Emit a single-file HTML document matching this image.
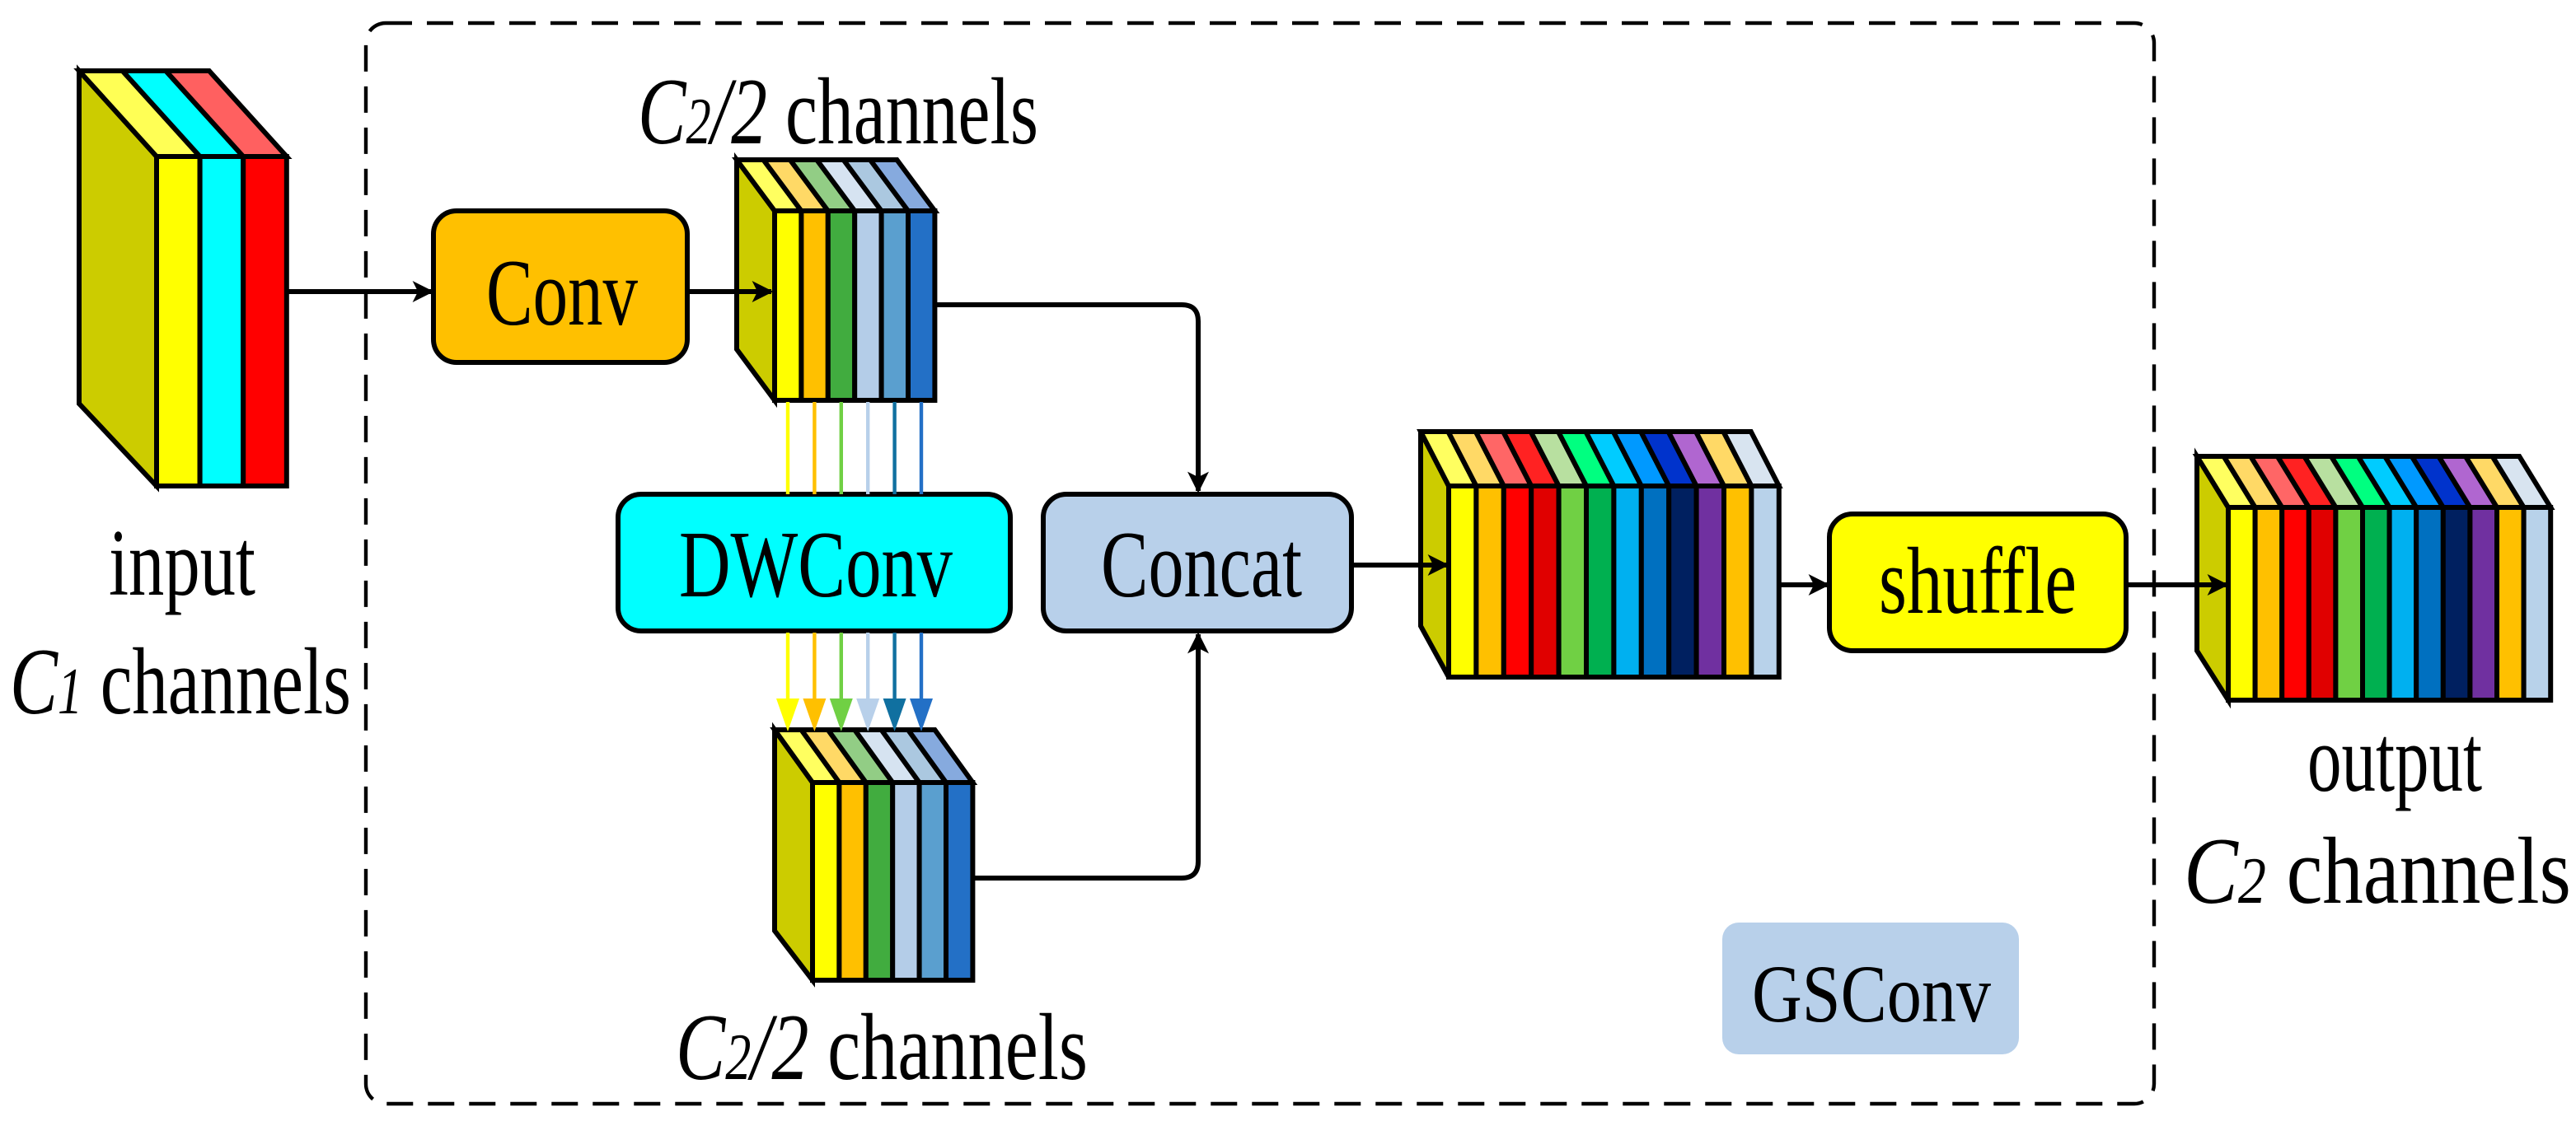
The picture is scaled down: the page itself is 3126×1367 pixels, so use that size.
<!DOCTYPE html>
<html><head><meta charset="utf-8"><style>
html,body{margin:0;padding:0;background:#fff;}
svg{display:block;}
text{font-family:"Liberation Serif","Times New Roman",Times,serif;fill:#000;}
</style></head><body>
<svg id="s" width="3126" height="1367" viewBox="0 0 1563 683.5" xmlns="http://www.w3.org/2000/svg" font-family="Liberation Serif, Times New Roman, serif">
<defs>
<marker id="ah" viewBox="0 0 10 10" refX="9" refY="5" markerWidth="13" markerHeight="13" markerUnits="userSpaceOnUse" orient="auto"><path d="M0,0 L10,5 L0,10 L2.5,5 z" fill="#000"/></marker>
</defs>
<rect x="222" y="14" width="1085" height="656" rx="12" fill="none" stroke="#000" stroke-width="2.2" stroke-dasharray="16,9"/>
<rect x="1045" y="560" width="180" height="80" rx="10" fill="#b8d0ea"/>
<text x="1063" y="620" font-family="Liberation Serif, serif" font-size="50" textLength="145" lengthAdjust="spacingAndGlyphs">GSConv</text>

<g id="stacks"></g>

<rect x="263" y="128" width="154" height="92" rx="14" fill="#ffc000" stroke="#000" stroke-width="3"/>
<text x="295" y="197" font-family="Liberation Serif, serif" font-size="58" textLength="92" lengthAdjust="spacingAndGlyphs">Conv</text>
<rect x="375" y="300" width="238" height="83" rx="14" fill="#00ffff" stroke="#000" stroke-width="3"/>
<text x="412" y="362" font-family="Liberation Serif, serif" font-size="58" textLength="166" lengthAdjust="spacingAndGlyphs">DWConv</text>
<rect x="633" y="300" width="187" height="83" rx="14" fill="#b8d0ea" stroke="#000" stroke-width="3"/>
<text x="668" y="362" font-family="Liberation Serif, serif" font-size="58" textLength="122" lengthAdjust="spacingAndGlyphs">Concat</text>
<rect x="1110" y="312" width="180" height="83" rx="14" fill="#ffff00" stroke="#000" stroke-width="3"/>
<text x="1140" y="372" font-family="Liberation Serif, serif" font-size="58" textLength="120" lengthAdjust="spacingAndGlyphs">shuffle</text>

<g fill="none" stroke="#000" stroke-width="3">
<line x1="174" y1="177" x2="262" y2="177" marker-end="url(#ah)"/>
<line x1="417" y1="177" x2="468" y2="177" marker-end="url(#ah)"/>
<path d="M567,185 H717 Q727,185 727,195 V298" marker-end="url(#ah)"/>
<path d="M590,533 H717 Q727,533 727,523 V385" marker-end="url(#ah)"/>
<line x1="820" y1="343" x2="878" y2="343" marker-end="url(#ah)"/>
<line x1="1080" y1="355" x2="1109" y2="355" marker-end="url(#ah)"/>
<line x1="1290" y1="355" x2="1351" y2="355" marker-end="url(#ah)"/>
</g>
<g id="carrows"></g>

<text x="66" y="361" font-family="Liberation Serif, serif" font-size="58" textLength="89" lengthAdjust="spacingAndGlyphs">input</text>
<text x="6" y="433" font-family="Liberation Serif, serif" font-size="58" textLength="207" lengthAdjust="spacingAndGlyphs"><tspan font-style="italic">C</tspan><tspan font-style="italic" font-size="40">1</tspan> channels</text>
<text x="387" y="87" font-family="Liberation Serif, serif" font-size="58" textLength="243" lengthAdjust="spacingAndGlyphs"><tspan font-style="italic">C</tspan><tspan font-style="italic" font-size="40">2</tspan><tspan font-style="italic">/2</tspan> channels</text>
<text x="410" y="655" font-family="Liberation Serif, serif" font-size="58" textLength="250" lengthAdjust="spacingAndGlyphs"><tspan font-style="italic">C</tspan><tspan font-style="italic" font-size="40">2</tspan><tspan font-style="italic">/2</tspan> channels</text>
<text x="1400" y="480" font-family="Liberation Serif, serif" font-size="58" textLength="106" lengthAdjust="spacingAndGlyphs">output</text>
<text x="1325" y="548" font-family="Liberation Serif, serif" font-size="58" textLength="235" lengthAdjust="spacingAndGlyphs"><tspan font-style="italic">C</tspan><tspan font-style="italic" font-size="40">2</tspan> channels</text>
</svg>
<script>
var NS="http://www.w3.org/2000/svg";
var g=document.getElementById("stacks");
function el(t,a){var e=document.createElementNS(NS,t);for(var k in a)e.setAttribute(k,a[k]);g.appendChild(e);return e;}
function stack(sx,bt,fx,ft,fb,sb,w,fc,tc){
 el("polygon",{points:sx+","+bt+" "+fx+","+ft+" "+fx+","+fb+" "+sx+","+sb,fill:"#cccc00",stroke:"#000","stroke-width":3,"stroke-linejoin":"miter"});
 for(var i=0;i<fc.length;i++){
  var a=sx+i*w,b=sx+(i+1)*w,c=fx+(i+1)*w,d=fx+i*w;
  el("polygon",{points:a+","+bt+" "+b+","+bt+" "+c+","+ft+" "+d+","+ft,fill:tc[i],stroke:"#000","stroke-width":3});
 }
 for(var i=0;i<fc.length;i++){
  el("rect",{x:fx+i*w,y:ft,width:w,height:fb-ft,fill:fc[i],stroke:"#000","stroke-width":3});
 }
}
stack(48,43,95,95,295,245,26.3,["#ffff00","#00ffff","#ff0000"],["#ffff55","#00ffff","#ff6060"]);
var c6=["#ffff00","#ffc000","#41ac3f","#b4cde8","#5a9fcf","#2370c6"],t6=["#ffff60","#ffd966","#92cd85","#d6e3f1","#abc8e0","#86aade"];
stack(447,97,470,128,243,212,16.2,c6,t6);
stack(470,443,493,475,595,565,16.2,c6,t6);
var c12=["#ffff00","#ffc000","#ff0000","#e00000","#70d044","#00b050","#00b0f0","#0070c0","#002060","#7030a0","#ffc000","#b8d2ea"],
t12=["#ffff60","#ffd966","#ff6666","#ff2222","#b8e0a0","#00ff80","#00ccff","#0099ff","#0033cc","#b066d0","#ffd966","#d8e4f0"];
stack(862,262,879,295,411,380,16.7,c12,t12);
stack(1333,277,1352,308,425,395,16.3,c12,t12);
var ca=document.getElementById("carrows");
var lc=["#ffff00","#ffc000","#70d044","#b8d0ea","#1070a0","#2370c6"];
for(var i=0;i<6;i++){
 var x=478+i*16.2;
 var l1=document.createElementNS(NS,"line");
 l1.setAttribute("x1",x);l1.setAttribute("y1",244);l1.setAttribute("x2",x);l1.setAttribute("y2",300);
 l1.setAttribute("stroke",lc[i]);l1.setAttribute("stroke-width",2.2);ca.appendChild(l1);
 var l2=document.createElementNS(NS,"line");
 l2.setAttribute("x1",x);l2.setAttribute("y1",384);l2.setAttribute("x2",x);l2.setAttribute("y2",428);
 l2.setAttribute("stroke",lc[i]);l2.setAttribute("stroke-width",2.2);ca.appendChild(l2);
 var p=document.createElementNS(NS,"path");
 p.setAttribute("d","M"+(x-7)+",424 L"+(x+7)+",424 L"+x+",444 z");
 p.setAttribute("fill",lc[i]);ca.appendChild(p);
}
</script>
</body></html>
